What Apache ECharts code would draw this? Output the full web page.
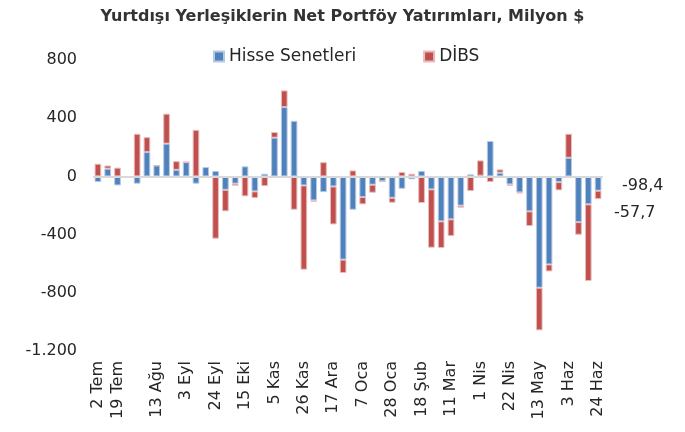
<!DOCTYPE html>
<html>
<head>
<meta charset="utf-8">
<script src="https://cdn.jsdelivr.net/npm/echarts@6/dist/echarts.min.js"></script>
<style>
  html, body { margin: 0; padding: 0; background: #fff; }
  #main { width: 685px; height: 432px; }
</style>
</head>
<body>
<div id="main"></div>
<script>
// weekly dates (Temmuz .. Haziran)
var weeks = [
  '2 Tem', '9 Tem', '19 Tem', '23 Tem', '30 Tem', '6 Ağu', '13 Ağu', '20 Ağu', '27 Ağu',
  '3 Eyl', '10 Eyl', '17 Eyl', '24 Eyl', '1 Eki', '8 Eki', '15 Eki', '22 Eki', '29 Eki',
  '5 Kas', '12 Kas', '19 Kas', '26 Kas', '3 Ara', '10 Ara', '17 Ara', '24 Ara', '31 Ara',
  '7 Oca', '14 Oca', '21 Oca', '28 Oca', '4 Şub', '11 Şub', '18 Şub', '25 Şub', '4 Mar',
  '11 Mar', '18 Mar', '25 Mar', '1 Nis', '8 Nis', '15 Nis', '22 Nis', '29 Nis', '6 May',
  '13 May', '20 May', '27 May', '3 Haz', '10 Haz', '17 Haz', '24 Haz'
];

// Hisse Senetleri, milyon $
var hisse = [
  -39, 53, -62, null, -50, 167, 75, 225, 45,
  98, -50, 64, 37, -92, -50, 69, -103, 18,
  266, 476, 382, -62, -165, -108, -69, -572, -229,
  -142, -57, -34, -147, -85, -20, 37, -89, -309,
  -295, -201, 14, 5, 243, 25, -55, -110, -240,
  -765, -605, -39, 128, -314, -192, -98.4
];

// DİBS, milyon $
var dibs = [
  87, 22, 60, null, 293, 103, 0, 206, 60,
  0, 320, -10, -428, -148, -14, -137, -46, -67,
  39, 115, -229, -579, -9, 98, -261, -92, 41,
  -50, -55, 0, -34, 30, 18, -183, -401, -183,
  -115, -14, -101, 105, -39, 23, -9, -7, -101,
  -293, -48, -57, 165, -87, -527, -57.7
];

// which week labels are printed under the axis
var shownLabels = [0, 2];
for (var k = 6; k < weeks.length; k += 3) shownLabels.push(k);

var font = 'DejaVu Sans';

var chart = echarts.init(document.getElementById('main'));

chart.setOption({
  backgroundColor: '#fff',
  animation: false,
  title: {
    text: 'Yurtdışı Yerleşiklerin Net Portföy Yatırımları, Milyon $',
    left: 'center',
    top: 4,
    textStyle: { fontFamily: font, fontSize: 16, fontWeight: 'bold', color: '#333' }
  },
  legend: {
    left: 208,
    top: 43,
    itemGap: 67,
    itemWidth: 10,
    itemHeight: 10,
    icon: 'rect',
    textStyle: { fontFamily: font, fontSize: 17, color: '#262626' },
    data: ['Hisse Senetleri', 'DİBS']
  },
  grid: { left: 93, right: 82, top: 60, bottom: 81 },
  xAxis: {
    type: 'category',
    data: weeks,
    axisLine: { show: false, onZero: false },
    axisTick: { show: false },
    axisLabel: {
      rotate: 90,
      margin: 10,
      fontFamily: font,
      fontSize: 16,
      color: '#262626',
      interval: function (idx) { return shownLabels.indexOf(idx) >= 0; }
    }
  },
  yAxis: {
    type: 'value',
    min: -1200,
    max: 800,
    interval: 400,
    axisLine: { show: false },
    axisTick: { show: false },
    splitLine: { show: false },
    axisLabel: {
      margin: 16,
      fontFamily: font,
      fontSize: 16,
      color: '#262626',
      formatter: function (v) {
        return String(v).replace(/(\d)(?=(\d{3})+$)/, '$1.');
      }
    }
  },
  series: [
    {
      name: 'Hisse Senetleri',
      type: 'bar',
      stack: 'total',
      barWidth: '68%',
      data: hisse,
      itemStyle: { color: '#4F81BD', borderColor: '#b3c8e3', borderWidth: 1 },
      markLine: {
        silent: true,
        symbol: 'none',
        label: { show: false },
        lineStyle: { color: '#d9d9d9', width: 2, type: 'solid' },
        data: [{ yAxis: 0 }]
      }
    },
    {
      name: 'DİBS',
      type: 'bar',
      stack: 'total',
      barWidth: '68%',
      data: dibs,
      itemStyle: { color: '#C0504D', borderColor: '#e8bcbb', borderWidth: 1 }
    }
  ],
  graphic: [
    {
      type: 'text', left: 622, top: 178,
      style: { text: '-98,4', font: '16px "DejaVu Sans"', fill: '#262626' }
    },
    {
      type: 'text', left: 614, top: 205,
      style: { text: '-57,7', font: '16px "DejaVu Sans"', fill: '#262626' }
    }
  ]
});
</script>
</body>
</html>
